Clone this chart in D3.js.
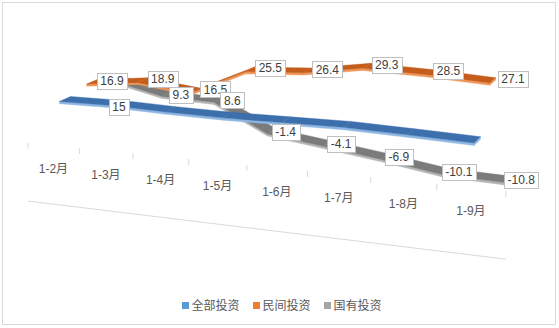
<!DOCTYPE html>
<html>
<head>
<meta charset="utf-8">
<script src="https://cdn.jsdelivr.net/npm/d3@7"></script>
<style>
  html, body { margin: 0; padding: 0; background: #ffffff; }
  svg { display: block; }
  text { font-family: "Liberation Sans", Arial, "Noto Sans CJK SC", sans-serif; }
</style>
</head>
<body>
<svg id="chart" width="559" height="328"></svg>
<script>
// ---- data ----
const categories = ["1-2月", "1-3月", "1-4月", "1-5月", "1-6月", "1-7月", "1-8月", "1-9月"];
const seriesNames = ["全部投资", "民间投资", "国有投资"];
const totalInvestment   = [14.9, 15, 14.3, 13.9, 14.0, 14.1, 13.4, 12.6];
const privateInvestment = [16.9, 18.9, 16.5, 25.5, 26.4, 29.3, 28.5, 27.1];
const stateInvestment   = [13.8, 9.3, 8.6, -1.4, -4.1, -6.9, -10.1, -10.8];
// indexes of the points that carry a data label
const totalLabelled   = [1];
const privateLabelled = [0, 1, 2, 3, 4, 5, 6, 7];
const stateLabelled   = [1, 2, 3, 4, 5, 6, 7];

// ---- 3-D scene: category (t), value (v) and series depth (d) ----
const catScale = d3.scaleBand().domain(categories).range([0, 8]);
const depthScale = d3.scalePoint().domain(seriesNames).range([0, 2]);
const valueScale = d3.scaleLinear().domain([0, 10]).range([258, 230.4]);

const AXIS_DEPTH = -0.41;   // plane of the category axis
const FLOOR_VALUE = -21;    // front edge of the floor
const HALF_DEPTH = 0.2;     // half the depth of a ribbon
const THICK = 0.8;          // ribbon front-face thickness, value units

// perspective camera
const cam = { cx: 280, cy: -117, w0: 1.0139, wt: -0.0193, wd: 0.0342,
              x0: -243.6, xt: 55.38, xd: 20.67, yd: -5 };
function project(t, v, d) {
  const w = cam.w0 + cam.wt * t + cam.wd * d;
  return [cam.cx + (cam.x0 + cam.xt * t + cam.xd * d) / w,
          cam.cy + (valueScale(v) + cam.yd * d) / w];
}
const tCenter = c => catScale(c) + catScale.bandwidth() / 2;

const svg = d3.select("#chart");

// chart area frame
svg.append("rect")
  .attr("x", 2.5).attr("y", 2.5).attr("width", 553).attr("height", 322)
  .attr("fill", "#ffffff").attr("stroke", "#d9d9d9").attr("stroke-width", 1);

const gridColor = "#d9d9d9";
const poly = pts => "M" + pts.map(p => p[0].toFixed(2) + "," + p[1].toFixed(2)).join("L") + "Z";

// floor front edge
{
  const a = project(0, FLOOR_VALUE, AXIS_DEPTH);
  const b = project(8, FLOOR_VALUE, AXIS_DEPTH);
  svg.append("line").attr("x1", a[0]).attr("y1", a[1]).attr("x2", b[0]).attr("y2", b[1])
    .attr("stroke", gridColor).attr("stroke-width", 1);
}

// category tick marks
const tickG = svg.append("g");
d3.range(categories.length + 1).forEach(i => {
  const t = i * catScale.step();
  const a = project(t, 0, AXIS_DEPTH);
  const b = project(t, -2, AXIS_DEPTH);
  tickG.append("line").attr("x1", a[0]).attr("y1", a[1]).attr("x2", a[0]).attr("y2", b[1])
    .attr("stroke", gridColor).attr("stroke-width", 1);
});

// category labels
svg.append("g").selectAll("text").data(categories).join("text")
  .attr("x", c => project(tCenter(c), 0, AXIS_DEPTH)[0])
  .attr("y", c => project(tCenter(c), 0, AXIS_DEPTH)[1] + 23.5)
  .attr("dy", "0.35em")
  .attr("text-anchor", "middle")
  .attr("font-size", 12)
  .attr("fill", "#595959")
  .text(c => c);

// series ribbons, back to front
const series = [
  { name: seriesNames[0], values: totalInvestment, labelled: totalLabelled,
    top: "#3c6fab", front: "#8db6e2", key: "#5b9bd5", ldx: 2, ldy: 4 },
  { name: seriesNames[1], values: privateInvestment, labelled: privateLabelled,
    top: "#c45c1c", front: "#ef9558", key: "#ed7d31", ldx: 20, ldy: -1 },
  { name: seriesNames[2], values: stateInvestment, labelled: stateLabelled,
    top: "#7b7b7b", front: "#b4b4b4", key: "#a5a5a5", ldx: 14, ldy: 0.5 }
];

const ribbonG = svg.append("g");
series.slice().reverse().forEach(s => {
  const d = depthScale(s.name);
  const dF = d - HALF_DEPTH, dB = d + HALF_DEPTH;
  const g = ribbonG.append("g");
  for (let i = 0; i < categories.length - 1; i++) {
    const t0 = tCenter(categories[i]), t1 = tCenter(categories[i + 1]);
    const v0 = s.values[i], v1 = s.values[i + 1];
    g.append("path")
      .attr("d", poly([project(t0, v0, dF), project(t1, v1, dF),
                       project(t1, v1 - THICK, dF), project(t0, v0 - THICK, dF)]))
      .attr("fill", s.front).attr("stroke", s.front).attr("stroke-width", 0.4);
    g.append("path")
      .attr("d", poly([project(t0, v0, dF), project(t1, v1, dF),
                       project(t1, v1, dB), project(t0, v0, dB)]))
      .attr("fill", s.top).attr("stroke", s.top).attr("stroke-width", 0.4);
  }
  // right end cap
  const n = categories.length - 1, tn = tCenter(categories[n]), vn = s.values[n];
  g.append("path")
    .attr("d", poly([project(tn, vn, dF), project(tn, vn, dB),
                     project(tn, vn - THICK, dB), project(tn, vn - THICK, dF)]))
    .attr("fill", s.front);
});

// data labels
const labelG = svg.append("g");
series.forEach(s => {
  const d = depthScale(s.name);
  s.labelled.forEach(i => {
    const p = project(tCenter(categories[i]), s.values[i], d);
    const cx = p[0] + s.ldx, cy = p[1] + s.ldy;
    const lg = labelG.append("g");
    const rect = lg.append("rect").attr("fill", "#ffffff").attr("stroke", "#bfbfbf").attr("stroke-width", 1);
    const txt = lg.append("text")
      .attr("x", cx).attr("y", cy).attr("dy", "0.35em")
      .attr("text-anchor", "middle").attr("font-size", 12).attr("fill", "#404040")
      .text(String(s.values[i]));
    const w = txt.node().getComputedTextLength() + 7, h = 16;
    rect.attr("x", Math.round(cx - w / 2) + 0.5).attr("y", Math.round(cy - h / 2) + 0.5)
      .attr("width", Math.round(w)).attr("height", h);
  });
});

// legend
const legendX = d3.scalePoint().domain(seriesNames).range([182, 324]);
const legend = svg.append("g");
series.forEach(s => {
  const x = legendX(s.name);
  legend.append("rect").attr("x", x).attr("y", 302).attr("width", 7).attr("height", 7).attr("fill", s.key);
  legend.append("text").attr("x", x + 9.5).attr("y", 305.5).attr("dy", "0.35em")
    .attr("font-size", 12).attr("fill", "#595959")
    .style("font-family", "'Noto Sans CJK SC', sans-serif")
    .text(s.name);
});
</script>
</body>
</html>
